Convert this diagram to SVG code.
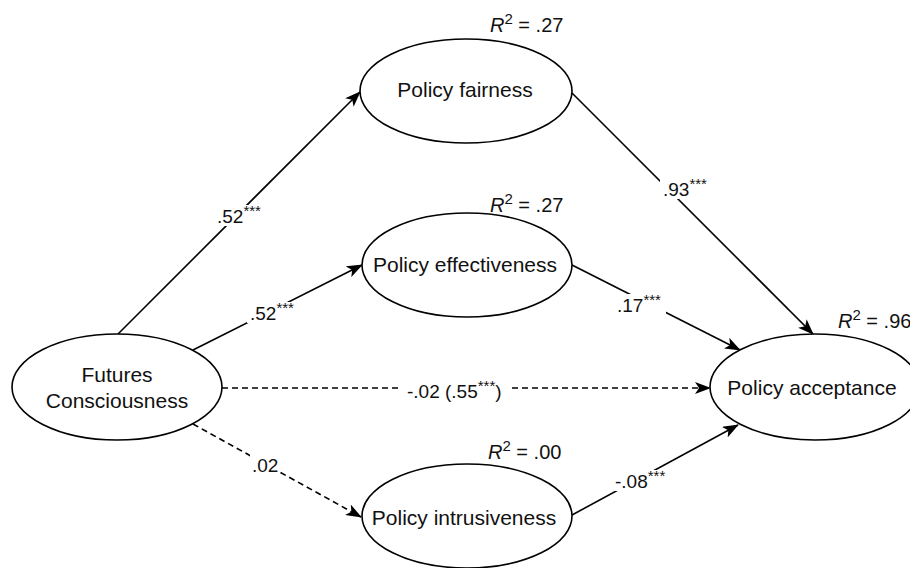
<svg xmlns="http://www.w3.org/2000/svg" width="910" height="568" viewBox="0 0 910 568">
<style>
  .node ellipse { fill: #ffffff; stroke: #000000; stroke-width: 1.6; }
  .nt { font-family: "Liberation Sans", Arial, Helvetica, sans-serif; font-size: 21px; fill: #111111; text-anchor: middle; }
  .r2 { font-family: "Liberation Sans", Arial, Helvetica, sans-serif; font-size: 20px; fill: #111111; }
  .r2 .it { font-style: italic; }
  .sup2 { font-size: 15px; }
  .edge { fill: none; stroke: #000000; stroke-width: 1.6; }
  .dash { stroke-dasharray: 6 4; }
  .lbl { font-family: "Liberation Sans", Arial, Helvetica, sans-serif; font-size: 19px; fill: #111111; }
  .st { font-size: 15px; }
  .bg { fill: #ffffff; stroke: none; }
</style>
<defs>
  <marker id="arr" markerUnits="userSpaceOnUse" viewBox="0 0 16 12" refX="15" refY="6" markerWidth="16" markerHeight="12" orient="auto">
    <path d="M0,0 L16,6 L0,12 L4,6 Z" fill="#000000"/>
  </marker>
</defs>

<g id="connectors">
  <line class="edge" x1="118" y1="334" x2="360" y2="92" marker-end="url(#arr)"/>
  <line class="edge" x1="193" y1="350" x2="362" y2="265" marker-end="url(#arr)"/>
  <line class="edge dash" x1="222" y1="388" x2="710" y2="388" marker-end="url(#arr)"/>
  <line class="edge dash" x1="193" y1="424" x2="361" y2="517" marker-end="url(#arr)"/>
  <line class="edge" x1="572" y1="93" x2="813" y2="334" marker-end="url(#arr)"/>
  <line class="edge" x1="572" y1="265" x2="740" y2="350" marker-end="url(#arr)"/>
  <line class="edge" x1="572" y1="515" x2="738" y2="425" marker-end="url(#arr)"/>

  <rect class="bg" x="214" y="205" width="54" height="21"/>
  <text class="lbl" x="217" y="223">.52<tspan class="st" dy="-7">***</tspan></text>

  <rect class="bg" x="247" y="302" width="54" height="21"/>
  <text class="lbl" x="250" y="320">.52<tspan class="st" dy="-7">***</tspan></text>

  <rect class="bg" x="402" y="378" width="106" height="24"/>
  <text class="lbl" x="407" y="398">-.02 (.55<tspan class="st" dy="-7">***</tspan><tspan dy="7">)</tspan></text>

  <rect class="bg" x="250" y="454" width="30" height="21"/>
  <text class="lbl" x="252" y="472">.02</text>

  <rect class="bg" x="660" y="178" width="56" height="21"/>
  <text class="lbl" x="663" y="196">.93<tspan class="st" dy="-7">***</tspan></text>

  <rect class="bg" x="614" y="294" width="52" height="21"/>
  <text class="lbl" x="617" y="312">.17<tspan class="st" dy="-7">***</tspan></text>

  <rect class="bg" x="612" y="470" width="60" height="21"/>
  <text class="lbl" x="615" y="488">-.08<tspan class="st" dy="-7">***</tspan></text>
</g>

<g id="futures-consciousness" class="node">
  <ellipse cx="117" cy="387" rx="105" ry="53"/>
  <text class="nt" x="117" y="382">Futures</text>
  <text class="nt" x="117" y="408">Consciousness</text>
</g>

<g id="policy-fairness" class="node">
  <ellipse cx="466" cy="91" rx="106" ry="52"/>
  <text class="nt" x="465" y="97">Policy fairness</text>
  <text class="r2" x="490" y="32"><tspan class="it">R</tspan><tspan class="sup2" dy="-8">2</tspan><tspan dy="8"> = .27</tspan></text>
</g>

<g id="policy-effectiveness" class="node">
  <ellipse cx="467" cy="265" rx="105" ry="52"/>
  <text class="nt" x="465" y="272">Policy effectiveness</text>
  <text class="r2" x="490" y="212"><tspan class="it">R</tspan><tspan class="sup2" dy="-8">2</tspan><tspan dy="8"> = .27</tspan></text>
</g>

<g id="policy-intrusiveness" class="node">
  <ellipse cx="467" cy="516" rx="105" ry="52"/>
  <text class="nt" x="464" y="525">Policy intrusiveness</text>
  <text class="r2" x="488" y="459"><tspan class="it">R</tspan><tspan class="sup2" dy="-8">2</tspan><tspan dy="8"> = .00</tspan></text>
</g>

<g id="policy-acceptance" class="node">
  <ellipse cx="815" cy="387" rx="105" ry="53"/>
  <text class="nt" x="812" y="395">Policy acceptance</text>
  <text class="r2" x="838" y="328"><tspan class="it">R</tspan><tspan class="sup2" dy="-8">2</tspan><tspan dy="8"> = .96</tspan></text>
</g>
</svg>
